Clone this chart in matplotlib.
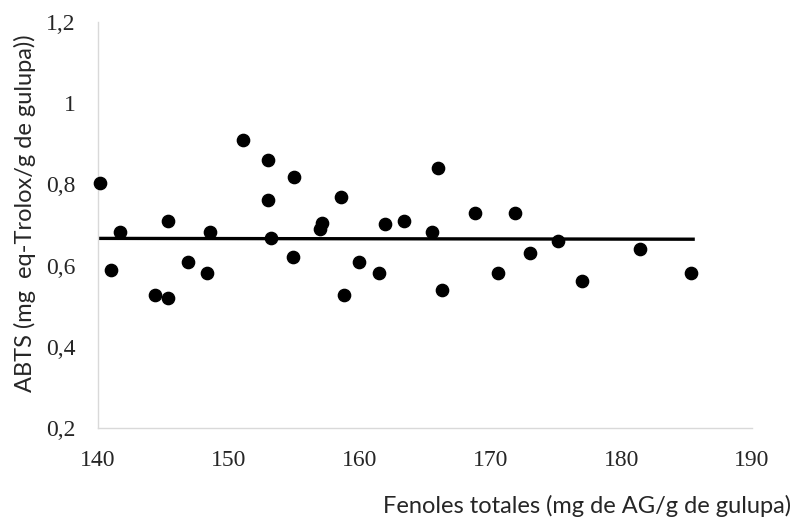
import numpy as np
import matplotlib
matplotlib.use('Agg')
import matplotlib.pyplot as plt
from matplotlib.ticker import FuncFormatter

# Total phenols (x) vs ABTS (y)
fenoles = [140.15, 140.97, 141.70, 144.38, 145.37, 145.37, 146.86, 148.33, 148.56, 151.06,
           153.0, 153.0, 153.2, 155.0, 154.9, 157.1, 156.97, 158.56, 158.8, 159.95,
           161.5, 161.94, 163.42, 165.54, 165.97, 166.28, 168.82, 170.58, 171.9, 173.03,
           175.15, 177.03, 181.46, 185.34]
abts = [0.803, 0.589, 0.682, 0.528, 0.521, 0.710, 0.610, 0.582, 0.682, 0.909,
        0.860, 0.762, 0.669, 0.819, 0.620, 0.704, 0.689, 0.768, 0.528, 0.610,
        0.582, 0.702, 0.710, 0.682, 0.840, 0.540, 0.730, 0.582, 0.730, 0.630,
        0.661, 0.561, 0.641, 0.582]

# Linear trend line endpoints
trend_x = [140.0, 185.5]
trend_y = [0.667, 0.665]

text_color = '#262626'

fig = plt.figure(figsize=(7.94, 5.21), dpi=100)
ax = fig.add_axes([0.1234, 0.1785, 0.8237, 0.7793])

ax.plot(trend_x, trend_y, color='black', linewidth=2.4, zorder=2)
ax.scatter(fenoles, abts, s=78, color='black', zorder=3, clip_on=False)

ax.set_xlim(140, 190)
ax.set_ylim(0.2, 1.2)
ax.set_xticks(np.arange(140, 191, 10))
ax.set_yticks([0.2, 0.4, 0.6, 0.8, 1.0, 1.2])
ax.yaxis.set_major_formatter(FuncFormatter(lambda v, p: f'{v:g}'.replace('.', ',')))

for s in ['top', 'right']:
    ax.spines[s].set_visible(False)
for s in ['left', 'bottom']:
    ax.spines[s].set_color('#d9d9d9')
    ax.spines[s].set_linewidth(1.0)

ax.tick_params(length=0, labelsize=17)
ax.tick_params(axis='x', pad=16)
ax.tick_params(axis='y', pad=16)
for lbl in ax.get_xticklabels() + ax.get_yticklabels():
    lbl.set_family('Liberation Serif')
    lbl.set_color(text_color)

fig.text(25 / 794, 1 - 213 / 521, 'ABTS (mg  eq-Trolox/g de gulupa))', family='Lato',
         fontsize=17, color=text_color, rotation=90, ha='center', va='center')
fig.text(791 / 794, 1 - 513 / 521, 'Fenoles totales (mg de AG/g de gulupa)', family='Lato',
         fontsize=17, color=text_color, ha='right', va='baseline')

fig.savefig('out.png', dpi=100)
